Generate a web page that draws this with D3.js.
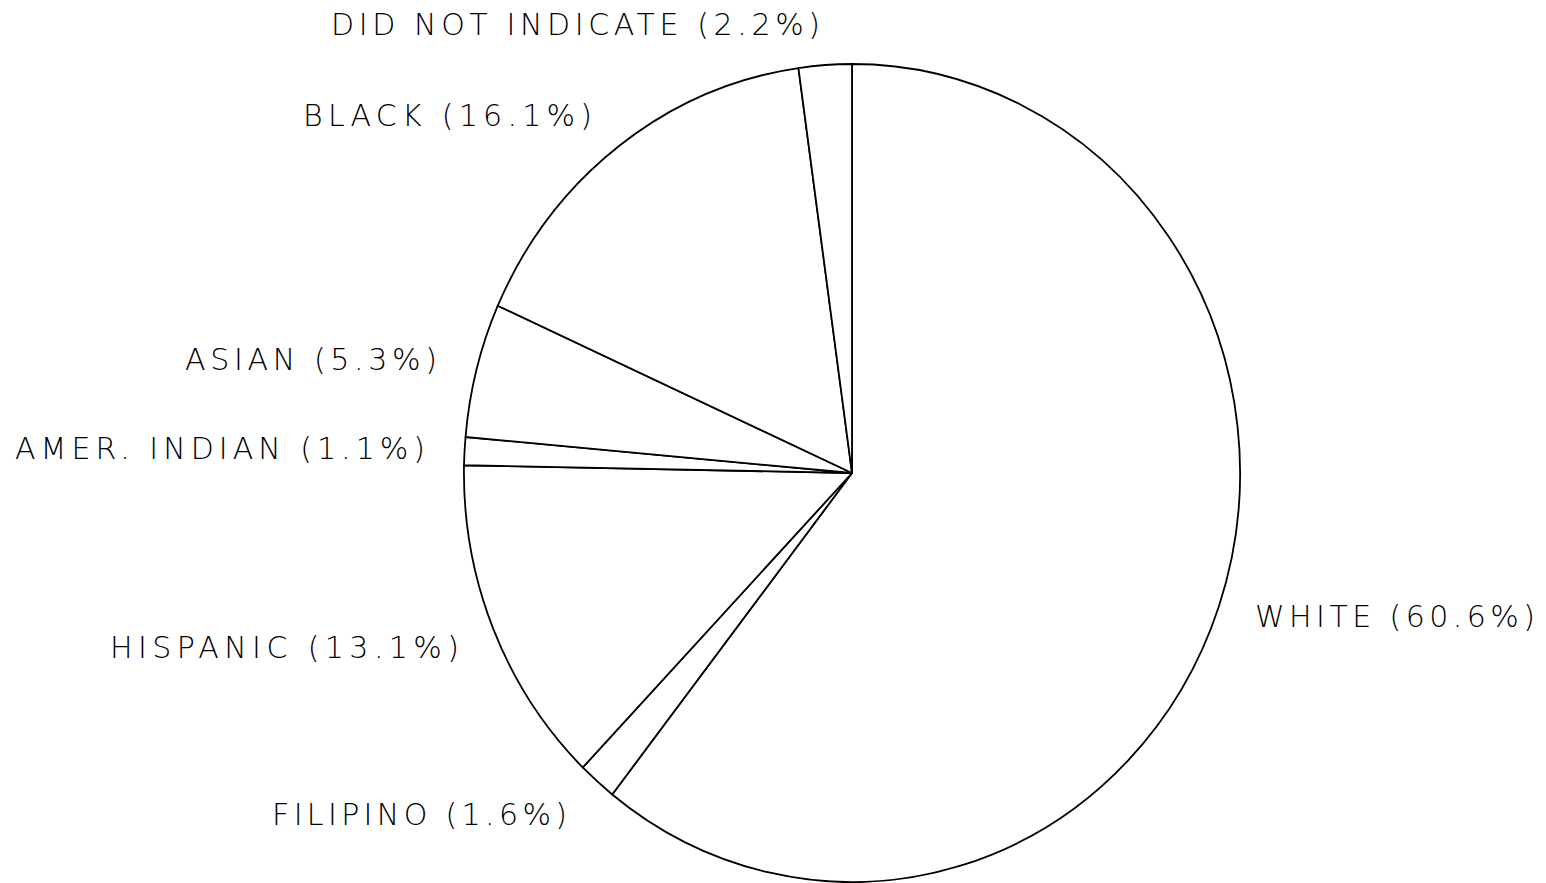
<!DOCTYPE html>
<html>
<head>
<meta charset="utf-8">
<script src="https://cdn.jsdelivr.net/npm/d3@7"></script>
<style>
  html, body { margin: 0; padding: 0; background: #fff; }
  svg { display: block; }
  text { font-family: "DejaVu Sans", sans-serif; font-weight: 200; fill: #000; }
</style>
</head>
<body>
<svg id="chart" width="1546" height="883"></svg>
<script>
// ---- data ----
const categories = ["WHITE", "FILIPINO", "HISPANIC", "AMER. INDIAN", "ASIAN", "BLACK", "DID NOT INDICATE"];
const values = [60.6, 1.6, 13.1, 1.1, 5.3, 16.1, 2.2];

// ---- layout (label anchor: left x, baseline y, text width) ----
const labelLayout = [
  { x: 1255, y: 627, w: 280 },
  { x: 272,  y: 825, w: 295 },
  { x: 110,  y: 658, w: 349 },
  { x: 15,   y: 459, w: 410 },
  { x: 185,  y: 370, w: 252 },
  { x: 303,  y: 126, w: 289 },
  { x: 331,  y: 35,  w: 489 }
];

const W = 1546, H = 883;
const cx = 852, cy = 473, rx = 388, ry = 409;

const svg = d3.select("#chart");

const data = categories.map((c, i) => ({ name: c, value: values[i] }));
const pie = d3.pie().sort(null).value(d => d.value).startAngle(0).endAngle(2 * Math.PI);
const arc = d3.arc().innerRadius(0).outerRadius(1);

const g = svg.append("g").attr("transform", `translate(${cx},${cy}) scale(${rx},${ry})`);
g.selectAll("path")
  .data(pie(data))
  .join("path")
  .attr("d", arc)
  .attr("fill", "#fff")
  .attr("stroke", "#000")
  .attr("stroke-width", 1.8)
  .attr("stroke-linejoin", "round")
  .attr("vector-effect", "non-scaling-stroke");

svg.selectAll("text.lbl")
  .data(data)
  .join("text")
  .attr("class", "lbl")
  .attr("x", (d, i) => labelLayout[i].x)
  .attr("y", (d, i) => labelLayout[i].y)
  .attr("font-size", 30)
  .attr("textLength", (d, i) => labelLayout[i].w)
  .attr("lengthAdjust", "spacing")
  .text(d => `${d.name} (${d.value.toFixed(1)}%)`);
</script>
</body>
</html>
